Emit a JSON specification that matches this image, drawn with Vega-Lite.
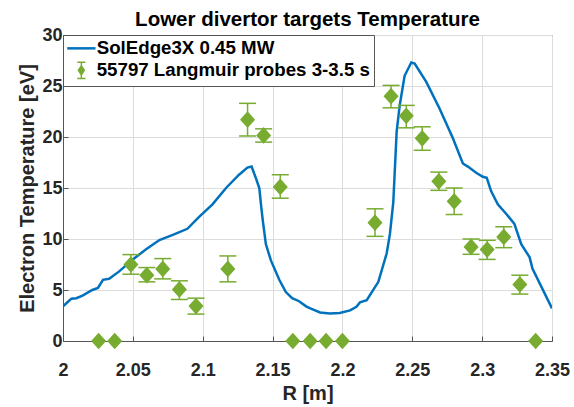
{
  "$schema": "https://vega.github.io/schema/vega-lite/v6.json",
  "width": 489,
  "height": 306,
  "autosize": "none",
  "padding": {"left": 63, "top": 35, "right": 22, "bottom": 66},
  "background": "white",
  "title": {"text": "Lower divertor targets Temperature", "fontSize": 20.5, "fontWeight": "bold", "font": "Liberation Sans", "color": "black", "baseline": "alphabetic", "offset": -20},
  "config": {
    "font": "Liberation Sans",
    "view": {"stroke": "#555555", "strokeWidth": 1},
    "axis": {
      "labelFont": "Liberation Sans", "labelFontSize": 18, "labelFontWeight": "bold", "labelColor": "#262626",
      "titleFont": "Liberation Sans", "titleFontSize": 20, "titleFontWeight": "bold", "titleColor": "#262626",
      "domainColor": "#555555", "tickColor": "#555555", "tickSize": -5, "gridColor": "#dcdcdc", "gridOpacity": 1
    }
  },
  "datasets": {
    "sim": [
      {"R": 2.000, "T": 3.4}, {"R": 2.0024, "T": 3.7}, {"R": 2.006, "T": 4.15}, {"R": 2.0095, "T": 4.2},
      {"R": 2.014, "T": 4.45}, {"R": 2.021, "T": 5.0}, {"R": 2.025, "T": 5.2}, {"R": 2.0286, "T": 6.0},
      {"R": 2.033, "T": 6.1}, {"R": 2.040, "T": 6.8}, {"R": 2.050, "T": 8.0}, {"R": 2.0595, "T": 9.0},
      {"R": 2.069, "T": 9.9}, {"R": 2.0786, "T": 10.4}, {"R": 2.089, "T": 11.0}, {"R": 2.0976, "T": 12.2},
      {"R": 2.107, "T": 13.4}, {"R": 2.1167, "T": 15.0}, {"R": 2.126, "T": 16.3}, {"R": 2.132, "T": 17.0},
      {"R": 2.135, "T": 17.1}, {"R": 2.138, "T": 16.0}, {"R": 2.1405, "T": 15.0}, {"R": 2.1417, "T": 13.4},
      {"R": 2.143, "T": 11.8}, {"R": 2.1452, "T": 9.5}, {"R": 2.1488, "T": 7.9}, {"R": 2.1548, "T": 6.0},
      {"R": 2.1595, "T": 4.8}, {"R": 2.164, "T": 4.2}, {"R": 2.169, "T": 3.9}, {"R": 2.174, "T": 3.4},
      {"R": 2.177, "T": 3.2}, {"R": 2.184, "T": 2.8}, {"R": 2.191, "T": 2.7}, {"R": 2.198, "T": 2.75},
      {"R": 2.2055, "T": 3.0}, {"R": 2.210, "T": 3.35}, {"R": 2.2126, "T": 3.8}, {"R": 2.2174, "T": 4.0},
      {"R": 2.2257, "T": 5.8}, {"R": 2.2317, "T": 8.6}, {"R": 2.234, "T": 10.5}, {"R": 2.2364, "T": 13.6},
      {"R": 2.2388, "T": 20.5}, {"R": 2.241, "T": 23.1}, {"R": 2.2445, "T": 26.0}, {"R": 2.2493, "T": 27.3},
      {"R": 2.2517, "T": 27.2}, {"R": 2.26, "T": 25.4}, {"R": 2.2695, "T": 22.8}, {"R": 2.279, "T": 19.9},
      {"R": 2.2862, "T": 17.4}, {"R": 2.2898, "T": 17.1}, {"R": 2.2957, "T": 16.5}, {"R": 2.3005, "T": 16.1},
      {"R": 2.3033, "T": 16.0}, {"R": 2.3064, "T": 14.7}, {"R": 2.3112, "T": 13.4}, {"R": 2.317, "T": 12.5},
      {"R": 2.323, "T": 11.5}, {"R": 2.328, "T": 9.5}, {"R": 2.334, "T": 8.2}, {"R": 2.336, "T": 7.1},
      {"R": 2.350, "T": 3.2}
    ],
    "exp": [
      {"R": 2.0255, "T": 0, "lo": null, "hi": null},
      {"R": 2.0370, "T": 0, "lo": null, "hi": null},
      {"R": 2.0486, "T": 7.5, "lo": 6.55, "hi": 8.47},
      {"R": 2.0600, "T": 6.45, "lo": 5.8, "hi": 7.2},
      {"R": 2.0714, "T": 7.07, "lo": 6.09, "hi": 8.08},
      {"R": 2.0833, "T": 5.05, "lo": 4.07, "hi": 5.9},
      {"R": 2.0952, "T": 3.42, "lo": 2.64, "hi": 4.2},
      {"R": 2.1180, "T": 7.07, "lo": 5.8, "hi": 8.34},
      {"R": 2.1321, "T": 21.7, "lo": 20.1, "hi": 23.3},
      {"R": 2.1436, "T": 20.15, "lo": 19.5, "hi": 20.8},
      {"R": 2.1555, "T": 15.1, "lo": 14.0, "hi": 16.3},
      {"R": 2.1645, "T": 0, "lo": null, "hi": null},
      {"R": 2.1769, "T": 0, "lo": null, "hi": null},
      {"R": 2.1883, "T": 0, "lo": null, "hi": null},
      {"R": 2.2000, "T": 0, "lo": null, "hi": null},
      {"R": 2.2233, "T": 11.6, "lo": 10.26, "hi": 12.96},
      {"R": 2.2348, "T": 24.0, "lo": 22.86, "hi": 25.06},
      {"R": 2.2457, "T": 22.08, "lo": 20.9, "hi": 23.1},
      {"R": 2.2571, "T": 19.87, "lo": 18.7, "hi": 21.0},
      {"R": 2.2690, "T": 15.65, "lo": 14.77, "hi": 16.56},
      {"R": 2.2800, "T": 13.7, "lo": 12.4, "hi": 15.0},
      {"R": 2.2921, "T": 9.22, "lo": 8.5, "hi": 10.0},
      {"R": 2.3036, "T": 8.96, "lo": 8.0, "hi": 9.87},
      {"R": 2.3155, "T": 10.2, "lo": 9.15, "hi": 11.2},
      {"R": 2.3270, "T": 5.54, "lo": 4.6, "hi": 6.45},
      {"R": 2.3383, "T": 0, "lo": null, "hi": null}
    ]
  },
  "layer": [
    {
      "data": {"name": "sim"},
      "mark": {"type": "line", "strokeWidth": 2.5, "clip": true},
      "encoding": {
        "x": {"field": "R", "type": "quantitative", "scale": {"domain": [2, 2.35], "nice": false, "zero": false},
              "axis": {"title": "R [m]", "format": "~g", "values": [2, 2.05, 2.1, 2.15, 2.2, 2.25, 2.3, 2.35], "labelPadding": 25, "titlePadding": 4, "labelFlush": false, "labelOverlap": false}},
        "y": {"field": "T", "type": "quantitative", "scale": {"domain": [0, 30], "nice": false},
              "axis": {"title": "Electron Temperature [eV]", "values": [0, 5, 10, 15, 20, 25, 30], "labelPadding": 6, "titlePadding": 4}},
        "color": {"datum": "SolEdge3X 0.45 MW", "type": "nominal",
          "scale": {"domain": ["SolEdge3X 0.45 MW", "55797 Langmuir probes 3-3.5 s"], "range": ["#0072BD", "#77AC30"]},
          "legend": {
            "title": null, "orient": "top-left", "offset": 0, "padding": 4,
            "strokeColor": "#555555", "fillColor": "white",
            "labelFont": "Liberation Sans", "labelFontSize": 18.7, "labelFontWeight": "bold", "labelColor": "black",
            "labelLimit": 400,
            "labelOffset": 6, "symbolOffset": 5, "symbolSize": 800, "rowPadding": 0, "symbolStrokeWidth": 2.5,
            "encode": {
              "symbols": {"update": {
                "shape": {"signal": "datum.value === 'SolEdge3X 0.45 MW' ? 'stroke' : 'M-0.29,-0.58H0.29M0,-0.58V0.58M-0.29,0.58H0.29M0,-0.32L0.21,0L0,0.32L-0.21,0Z'"},
                "stroke": {"signal": "scale('color', datum.value)"},
                "fill": {"signal": "datum.value === 'SolEdge3X 0.45 MW' ? 'transparent' : scale('color', datum.value)"},
                "strokeWidth": {"signal": "datum.value === 'SolEdge3X 0.45 MW' ? 2.5 : 1.5"},
                "opacity": {"value": 1}
              }}
            }
          }}
      }
    },
    {
      "data": {"name": "exp"},
      "mark": {"type": "rule", "color": "#77AC30", "strokeWidth": 1.5},
      "encoding": {
        "x": {"field": "R", "type": "quantitative"},
        "y": {"field": "lo", "type": "quantitative"},
        "y2": {"field": "hi"}
      }
    },
    {
      "data": {"name": "exp"},
      "mark": {"type": "tick", "orient": "horizontal", "color": "#77AC30", "size": 17, "thickness": 1.5, "opacity": 1},
      "encoding": {
        "x": {"field": "R", "type": "quantitative"},
        "y": {"field": "lo", "type": "quantitative"}
      }
    },
    {
      "data": {"name": "exp"},
      "mark": {"type": "tick", "orient": "horizontal", "color": "#77AC30", "size": 17, "thickness": 1.5, "opacity": 1},
      "encoding": {
        "x": {"field": "R", "type": "quantitative"},
        "y": {"field": "hi", "type": "quantitative"}
      }
    },
    {
      "data": {"name": "exp"},
      "mark": {"type": "point", "shape": "M0,-1L0.9,0L0,1L-0.9,0Z", "filled": true, "size": 280, "opacity": 1, "strokeWidth": 0},
      "encoding": {
        "x": {"field": "R", "type": "quantitative"},
        "y": {"field": "T", "type": "quantitative"},
        "color": {"datum": "55797 Langmuir probes 3-3.5 s", "type": "nominal"}
      }
    }
  ]
}
